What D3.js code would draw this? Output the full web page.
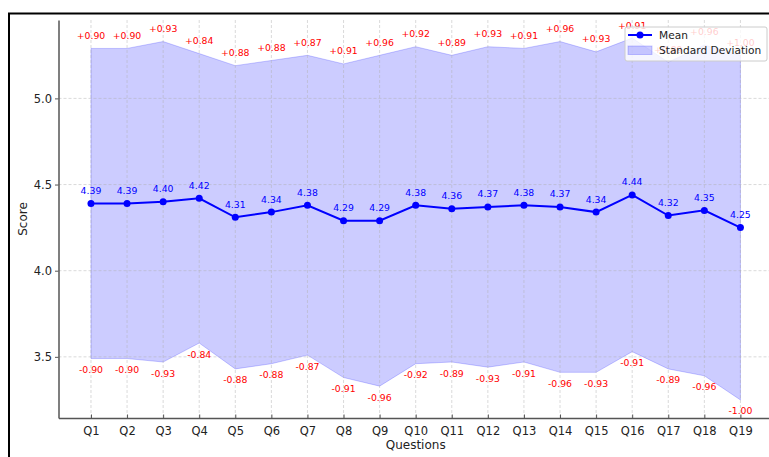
<!DOCTYPE html>
<html>
<head>
<meta charset="utf-8">
<script src="https://cdn.jsdelivr.net/npm/d3@7"></script>
<style>
  html, body { margin: 0; padding: 0; background: #fff; }
  svg { display: block; font-family: "DejaVu Sans", sans-serif; }
</style>
</head>
<body>
<svg id="chart" width="769" height="457"></svg>
<script>
const questions = ["Q1","Q2","Q3","Q4","Q5","Q6","Q7","Q8","Q9","Q10","Q11","Q12","Q13","Q14","Q15","Q16","Q17","Q18","Q19"];
const means = [4.39,4.39,4.40,4.42,4.31,4.34,4.38,4.29,4.29,4.38,4.36,4.37,4.38,4.37,4.34,4.44,4.32,4.35,4.25];
const stds  = [0.90,0.90,0.93,0.84,0.88,0.88,0.87,0.91,0.96,0.92,0.89,0.93,0.91,0.96,0.93,0.91,0.89,0.96,1.00];
const yTicks = [3.5, 4.0, 4.5, 5.0];

const data = questions.map((q, i) => ({ q, i, m: means[i], s: stds[i] }));

const svg = d3.select("#chart");
const pL = 58.5, pR = 772.9, pT = 20, pB = 418;

const x = d3.scaleLinear().domain([-0.9, questions.length - 1 + 0.9]).range([pL, pR]);
const y = d3.scaleLinear().domain([3.145, 5.455]).range([pB, pT]);

// outer black frame (partially cropped)
svg.append("path")
  .attr("d", `M9,457 L9,13.5 L769,13.5`)
  .attr("fill", "none").attr("stroke", "#000").attr("stroke-width", 2);

// std band
const area = d3.area()
  .x(d => x(d.i))
  .y0(d => y(d.m - d.s))
  .y1(d => y(d.m + d.s));
svg.append("path").datum(data)
  .attr("d", area)
  .attr("fill", "blue").attr("fill-opacity", 0.2)
  .attr("stroke", "blue").attr("stroke-opacity", 0.2).attr("stroke-width", 1);

// grid
const grid = svg.append("g");
grid.selectAll("line.v").data(data).enter().append("line")
  .attr("x1", d => x(d.i)).attr("x2", d => x(d.i))
  .attr("y1", pT).attr("y2", pB)
  .attr("stroke", "#b0b0b0").attr("stroke-opacity", 0.6)
  .attr("stroke-width", 0.8).attr("stroke-dasharray", "3,2");
grid.selectAll("line.h").data(yTicks).enter().append("line")
  .attr("x1", pL).attr("x2", pR)
  .attr("y1", d => y(d)).attr("y2", d => y(d))
  .attr("stroke", "#b0b0b0").attr("stroke-opacity", 0.6)
  .attr("stroke-width", 0.8).attr("stroke-dasharray", "3,2");

// axes
const xAxis = d3.axisBottom(x).tickValues(data.map(d => d.i))
  .tickFormat(i => questions[i]).tickSizeInner(-3.5).tickSizeOuter(0).tickPadding(9);
const gx = svg.append("g").attr("transform", `translate(0,${pB})`).call(xAxis);
gx.select(".domain").attr("stroke", "#555").attr("stroke-width", 1.5);
gx.selectAll(".tick line").attr("stroke", "#555");
gx.selectAll(".tick text").attr("fill", "#222").attr("font-size", 11.5)
  .attr("font-family", "DejaVu Sans");

const yAxis = d3.axisLeft(y).tickValues(yTicks).tickFormat(d3.format(".1f"))
  .tickSizeInner(3.5).tickSizeOuter(0).tickPadding(3);
const gy = svg.append("g").attr("transform", `translate(${pL},0)`).call(yAxis);
gy.select(".domain").attr("stroke", "#555").attr("stroke-width", 1.5);
gy.selectAll(".tick line").attr("stroke", "#555");
gy.selectAll(".tick text").attr("fill", "#222").attr("font-size", 11.5)
  .attr("font-family", "DejaVu Sans");

// axis labels
svg.append("text").attr("x", (pL + pR) / 2).attr("y", 448.5)
  .attr("text-anchor", "middle").attr("font-size", 12).attr("fill", "#222").text("Questions");
svg.append("text").attr("transform", `translate(26.5,${(pT + pB) / 2}) rotate(-90)`)
  .attr("text-anchor", "middle").attr("font-size", 12).attr("fill", "#222").text("Score");

// mean line
const line = d3.line().x(d => x(d.i)).y(d => y(d.m));
svg.append("path").datum(data).attr("d", line)
  .attr("fill", "none").attr("stroke", "blue").attr("stroke-width", 2);
svg.selectAll("circle.pt").data(data).enter().append("circle")
  .attr("cx", d => x(d.i)).attr("cy", d => y(d.m)).attr("r", 3.5).attr("fill", "blue");

// mean labels
svg.selectAll("text.mean").data(data).enter().append("text")
  .attr("x", d => x(d.i)).attr("y", d => y(d.m) - 9.5)
  .attr("text-anchor", "middle").attr("font-size", 9.3).attr("fill", "blue")
  .text(d => d.m.toFixed(2));

// std labels
svg.selectAll("text.up").data(data).enter().append("text")
  .attr("x", d => x(d.i)).attr("y", d => y(d.m + d.s) - 9.5)
  .attr("text-anchor", "middle").attr("font-size", 9.3).attr("fill", "red")
  .text(d => "+" + d.s.toFixed(2));
svg.selectAll("text.dn").data(data).enter().append("text")
  .attr("x", d => x(d.i)).attr("y", d => y(d.m - d.s) + 14.5)
  .attr("text-anchor", "middle").attr("font-size", 9.3).attr("fill", "red")
  .text(d => "-" + d.s.toFixed(2));

// legend
const lg = svg.append("g").attr("transform", "translate(625,27)");
lg.append("rect").attr("width", 142).attr("height", 34).attr("rx", 2)
  .attr("fill", "#fff").attr("fill-opacity", 0.8)
  .attr("stroke", "#ccc").attr("stroke-width", 1);
lg.append("line").attr("x1", 3).attr("x2", 27).attr("y1", 8).attr("y2", 8)
  .attr("stroke", "blue").attr("stroke-width", 2);
lg.append("circle").attr("cx", 15).attr("cy", 8).attr("r", 3.5).attr("fill", "blue");
lg.append("text").attr("x", 34).attr("y", 11.8).attr("font-size", 10.6).attr("fill", "#222").text("Mean");
lg.append("rect").attr("x", 3).attr("y", 19).attr("width", 24).attr("height", 8.5)
  .attr("fill", "blue").attr("fill-opacity", 0.2)
  .attr("stroke", "blue").attr("stroke-opacity", 0.2);
lg.append("text").attr("x", 34).attr("y", 27.3).attr("font-size", 10.6).attr("fill", "#222").text("Standard Deviation");
</script>
</body>
</html>
